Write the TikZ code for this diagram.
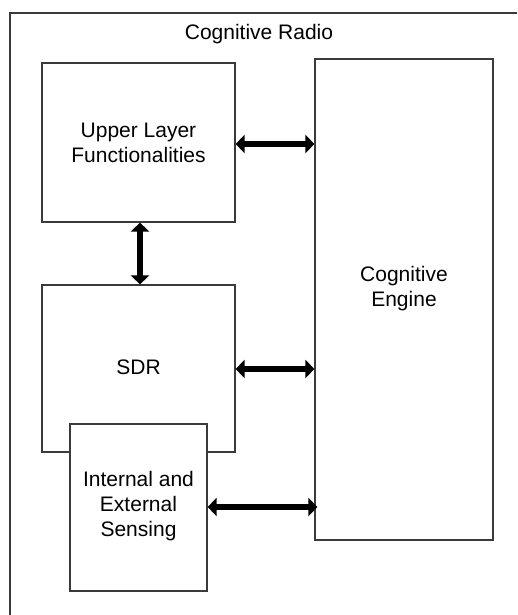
\documentclass[tikz,border=0pt]{standalone}
\usepackage{fontspec}
\setmainfont{Liberation Sans}
\usetikzlibrary{arrows.meta}
\definecolor{linegray}{HTML}{3A3A3A}
\begin{document}
\begin{tikzpicture}[x=1pt,y=-1pt,
  box/.style={draw=linegray, line width=1.4pt, fill=white},
  lbl/.style={font=\fontsize{21}{25}\selectfont, align=center, inner sep=0pt},
  bigarrow/.style={line width=6pt, {Triangle[length=9pt,width=18pt]}-{Triangle[length=9pt,width=18pt]}, shorten <=0.6pt, shorten >=0.6pt}]
\clip (0,0) rectangle (517,615);
\useasboundingbox (0,0) rectangle (517,615);
\draw[box] (10,13) rectangle (540,640);
\node[lbl] (title) at (259,34) {Cognitive Radio};
\draw[box] (42,63) rectangle (235,222);
\coordinate (ulfC) at (138.5,142.5);
\node[lbl] (ulf) at (ulfC) {Upper Layer\\Functionalities};
\draw[box] (315,59) rectangle (493,540);
\node[lbl] (ce) at (404,289) {Cognitive\\Engine};
\draw[box] (42,285) rectangle (235,452);
\node[lbl] (sdr) at (138.5,367) {SDR};
\draw[box] (70,424) rectangle (207,591);
\node[lbl] (sens) at (138.5,506) {Internal and\\External\\Sensing};
% connector end points on box borders
\coordinate (ulfR) at (235,144);
\coordinate (ceA) at (315,144);
\coordinate (sdrR) at (235,369);
\coordinate (ceB) at (315,369);
\coordinate (sensR) at (207,507);
\coordinate (ceC) at (318,507);
\coordinate (ulfB) at (140,222);
\coordinate (sdrT) at (140,285);
\draw[bigarrow] (ulfR) -- (ceA);
\draw[bigarrow] (sdrR) -- (ceB);
\draw[bigarrow] (sensR) -- (ceC);
\draw[bigarrow] (ulfB) -- (sdrT);
\end{tikzpicture}
\end{document}
